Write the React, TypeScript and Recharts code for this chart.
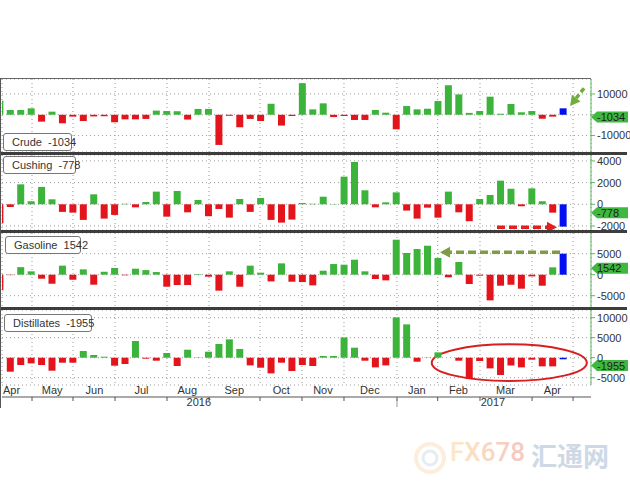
import React from 'react';
import { BarChart, Bar, XAxis, YAxis, CartesianGrid, Cell, ReferenceLine, ReferenceArea } from 'recharts';

// weekly changes, Apr 2016 .. Apr 2017 (first bar is cut by the left edge)
const crude = [6700, 2300, 2300, 3100, -3300, 1500, -4100, -900, -3000, -800, -700, -3600, -2200, -2200, -2000, 2000, 1800, 1700, -2300, 2800, 2800, -14500, -500, -6000, -2000, -3000, 5300, -5200, -600, 15200, 2600, 5500, -1100, -600, -2500, -2500, 2300, 1000, -7000, 4200, 2600, 2900, 6600, 14200, 9800, 900, 1800, 8700, 500, 5200, 1200, 1800, -1900, -900, 3100];
const cushing = [-1750, -250, 1840, 280, 1600, 460, -700, -770, -1440, 920, -1320, -980, 50, -280, 210, 1170, -1140, 1230, -740, 400, -1100, -430, -1230, 490, -700, 580, -1440, -1690, -1410, 120, 50, 700, 30, 2550, 3900, 1290, -280, 180, 1100, -580, -1320, -310, -1230, 1170, -740, -1560, 490, 860, 2180, 1440, -180, 1470, 280, -770, -2060];
const gasoline = [-3700, -100, 1800, 800, -950, -2150, 2150, -1200, 1270, -2380, 700, 1600, -150, 1430, 1100, 630, -2860, -2460, -2460, 150, -480, -3800, 800, -2860, 2150, 480, -1600, 2700, -1670, -1750, -2540, 950, 2540, 2380, 3570, 800, -1030, -1350, 8330, 5160, 6110, 6900, 3970, -630, 3020, -2220, -240, -6110, -2620, -2380, -3330, -400, -2620, 1750, 5000];
const distillates = [200, -3500, -1830, -1420, -1830, -3250, -1250, -1250, 1670, 670, 250, -2000, -1580, 4170, -250, -750, 1170, -2080, 2000, 80, 1500, 3420, 4580, 2170, -1920, -2500, -3920, -1250, -3330, -1830, -2080, 420, 420, 5080, 2500, -750, -2420, -1920, 10080, 8330, -1000, -50, 1330, 0, -750, -5330, -830, -2670, -4330, -1920, -2420, -500, -2170, -2170, -400];

// latest values shown in legends / axis flags
const lastCrude = -1034;
const lastCushing = -778;
const lastGasoline = 1542;
const lastDistillates = -1955;

// x axis in week units
const monthEdges = [3.11, 7.04, 11.07, 16.05, 20.08, 24.97, 28.99, 33.02, 38.1, 42.0, 46.06, 51.05, 54.98];
const monthMids = [1.15, 5.05, 9.1, 13.6, 18.0, 22.5, 27.0, 31.0, 35.5, 40.0, 44.0, 48.5, 53.0];
const monthNames = ['Apr', 'May', 'Jun', 'Jul', 'Aug', 'Sep', 'Oct', 'Nov', 'Dec', 'Jan', 'Feb', 'Mar', 'Apr'];
const yearPos = [19.1, 38.1, 47.3];
const yearNames = ['2016', '', '2017'];

const rows = crude.map((c, i) => ({
  wk: i,
  crude: c,
  cushing: cushing[i],
  gasoline: gasoline[i],
  distillates: distillates[i],
}));

const X_DOMAIN = [0.233, 56.7];
const GREEN = '#3cb43c';
const RED = '#e3141b';
const BLUE = '#0010f0';
const AXIS_GREEN = '#5cb85c';
const FONT = "'Liberation Sans', Arial, sans-serif";

const flagLabel = (text: string) => (p: any) => {
  const vb = p.viewBox || {};
  const x = vb.x + vb.width;
  const y = vb.y;
  return (
    <g>
      <polygon points={`${x},${y} ${x + 6},${y - 5.5} ${x + 37},${y - 5.5} ${x + 37},${y + 5.5} ${x + 6},${y + 5.5}`} fill="#3fb83f" />
      <text x={x + 6} y={y + 4} fontSize={11} fill="#1d1d1d" fontFamily={FONT}>{text}</text>
    </g>
  );
};

const arrowShape = (color: string, dash: string, w: number) => (p: any) => {
  const { x1, y1, x2, y2 } = p;
  const a = Math.atan2(y2 - y1, x2 - x1);
  const L = 10;
  const W = 5.5;
  const bx = x2 - L * Math.cos(a);
  const by = y2 - L * Math.sin(a);
  const px = -Math.sin(a) * W;
  const py = Math.cos(a) * W;
  return (
    <g>
      <line x1={x1} y1={y1} x2={bx} y2={by} stroke={color} strokeWidth={w} strokeDasharray={dash} />
      <polygon points={`${x2},${y2} ${bx + px},${by + py} ${bx - px},${by - py}`} fill={color} />
    </g>
  );
};

const ellipseShape = (p: any) => (
  <ellipse cx={p.x + p.width / 2} cy={p.y + p.height / 2} rx={p.width / 2} ry={p.height / 2} fill="none" stroke="#d81e1e" strokeWidth={2} />
);

const monthTick = (p: any) => (
  <text x={p.x} y={p.y + 9} textAnchor="middle" fontSize={11} fill="#333" fontFamily={FONT}>
    {monthNames[monthMids.indexOf(p.payload.value)]}
  </text>
);

const yearTick = (p: any) => {
  const label = yearNames[yearPos.indexOf(p.payload.value)];
  if (!label) return <line x1={p.x} x2={p.x} y1={p.y - 2} y2={p.y + 9} stroke="#999" />;
  return (
    <text x={p.x} y={p.y + 8} textAnchor="middle" fontSize={11} fill="#333" fontFamily={FONT}>{label}</text>
  );
};

interface PanelProps {
  top: number;
  plotH: number;
  field: 'crude' | 'cushing' | 'gasoline' | 'distillates';
  domain: number[];
  ticks: number[];
  flag: number;
  hideZero?: boolean;
  withAxis?: boolean;
  children?: React.ReactNode;
}

function Panel({ top, plotH, field, domain, ticks, flag, hideZero, withAxis, children }: PanelProps) {
  const h = plotH + (withAxis ? 27 : 0);
  return (
    <div style={{ position: 'absolute', left: 0, top }}>
      <BarChart width={630} height={h} data={rows} margin={{ top: 0, right: 0, bottom: 0, left: 2 }} barSize={7}>
        <CartesianGrid xAxisId="wk" yAxisId="v" stroke="#9a9a9a" strokeDasharray="1 3" />
        <XAxis
          xAxisId="wk"
          dataKey="wk"
          type="number"
          domain={X_DOMAIN}
          allowDataOverflow
          ticks={monthEdges}
          interval={0}
          hide={!withAxis}
          height={1}
          tickSize={4}
          tickFormatter={() => ''}
          axisLine={{ stroke: '#555' }}
          tickLine={{ stroke: '#555' }}
        />
        {withAxis && (
          <XAxis xAxisId="mon" dataKey="wk" type="number" domain={X_DOMAIN} allowDataOverflow ticks={monthMids}
            interval={0} height={12} tickSize={0} tickMargin={0} axisLine={false} tickLine={false} tick={monthTick} />
        )}
        {withAxis && (
          <XAxis xAxisId="yr" dataKey="wk" type="number" domain={X_DOMAIN} allowDataOverflow ticks={yearPos}
            interval={0} height={14} tickSize={0} tickMargin={0} axisLine={false} tickLine={false} tick={yearTick} />
        )}
        <YAxis
          yAxisId="v"
          orientation="right"
          width={39}
          type="number"
          domain={domain}
          allowDataOverflow
          ticks={ticks}
          interval={0}
          tickSize={4}
          tickMargin={2}
          axisLine={{ stroke: AXIS_GREEN }}
          tickLine={{ stroke: AXIS_GREEN }}
          tick={{ fontSize: 11, fill: '#333', fontFamily: FONT }}
          tickFormatter={(v: number) => (hideZero && v === 0 ? '' : String(v))}
        />
        <Bar xAxisId="wk" yAxisId="v" dataKey={field} isAnimationActive={false}>
          {rows.map((r, i) => (
            <Cell key={i} fill={i === rows.length - 1 ? BLUE : r[field] >= 0 ? GREEN : RED} />
          ))}
        </Bar>
        {children}
        <ReferenceLine xAxisId="wk" yAxisId="v" y={flag} stroke="none" label={{ content: flagLabel(String(flag)) }} />
      </BarChart>
    </div>
  );
}

function LegendBox({ left, top, width, text }: { left: number; top: number; width: number; text: string }) {
  return (
    <div
      style={{
        position: 'absolute', left, top, width, height: 18, boxSizing: 'border-box',
        background: '#fff', border: '1px solid #777', borderRadius: 3,
        display: 'flex', alignItems: 'center', fontFamily: FONT, fontSize: 11, color: '#333',
        whiteSpace: 'pre', paddingLeft: 4,
      }}
    >
      <span style={{ display: 'inline-block', width: 9, height: 9, background: GREEN, marginRight: 4 }} />
      {text}
    </div>
  );
}

const sep = (top: number) => (
  <div style={{ position: 'absolute', left: 0, top, width: 627, height: 3, background: '#3d3d3d' }} />
);

export default function App() {
  return (
    <div style={{ position: 'absolute', left: 0, top: 0, width: 630, height: 490, background: '#fff', overflow: 'hidden', fontFamily: FONT }}>
      <style>{'.recharts-surface { overflow: visible; }'}</style>
      <Panel top={79} plotH={73} field="crude" domain={[-17900, 17200]} ticks={[-10000, 0, 10000]} flag={lastCrude} hideZero>
        <ReferenceLine xAxisId="wk" yAxisId="v" segment={[{ x: 56.03, y: 12750 }, { x: 54.69, y: 4230 }]}
          shape={arrowShape('#6fae3c', '5 3', 3.5)} />
      </Panel>
      <Panel top={155} plotH={75} field="cushing" domain={[-2370, 4545]} ticks={[-2000, 0, 2000, 4000]} flag={lastCushing}>
        <ReferenceLine xAxisId="wk" yAxisId="v" segment={[{ x: 47.69, y: -2120 }, { x: 53.44, y: -2120 }]}
          shape={arrowShape('#e02020', '8 4', 3.5)} />
      </Panel>
      <Panel top={233} plotH={75} field="gasoline" domain={[-7925, 9925]} ticks={[-5000, 0, 5000]} flag={lastGasoline}>
        <ReferenceLine xAxisId="wk" yAxisId="v" segment={[{ x: 53.73, y: 5330 }, { x: 42.23, y: 5330 }]}
          shape={arrowShape('#7e9c44', '8 4', 3.5)} />
      </Panel>
      <Panel top={310} plotH={75} field="distillates" domain={[-6825, 11925]} ticks={[-5000, 0, 5000, 10000]} flag={lastDistillates} withAxis>
        <ReferenceArea xAxisId="wk" yAxisId="v" x1={41.43} x2={56.3} y1={-5825} y2={3350} shape={ellipseShape} />
      </Panel>

      {sep(152)}
      {sep(230)}
      {sep(307)}
      <div style={{ position: 'absolute', left: 0, top: 78, width: 591, height: 1, background: '#666' }} />
      <div style={{ position: 'absolute', left: 0, top: 78, width: 1, height: 330, background: '#555' }} />

      <LegendBox left={3} top={133} width={69} text={`Crude  ${lastCrude}`} />
      <LegendBox left={3} top={156} width={73} text={`Cushing  ${lastCushing}`} />
      <LegendBox left={5} top={236} width={76} text={`Gasoline  ${lastGasoline}`} />
      <LegendBox left={4} top={314} width={88} text={`Distillates  ${lastDistillates}`} />

      <svg style={{ position: 'absolute', left: 412, top: 440 }} width={36} height={36}>
        <circle cx={18} cy={18} r={14} fill="none" stroke="#f6c48c" strokeWidth={4} opacity={0.3} />
        <circle cx={18} cy={18} r={7} fill="none" stroke="#b9c8db" strokeWidth={3} opacity={0.35} />
      </svg>
      <div style={{ position: 'absolute', left: 450, top: 437, fontFamily: "Roboto, 'Liberation Sans', sans-serif", fontSize: 26, fontWeight: 500, opacity: 0.55, whiteSpace: 'pre' }}>
        <span style={{ color: '#f8d49c' }}>F</span>
        <span style={{ color: '#f7c690' }}>X</span>
        <span style={{ color: '#f5b68c' }}>6</span>
        <span style={{ color: '#f3a98c' }}>7</span>
        <span style={{ color: '#f19f8e' }}>8</span>
      </div>
      <div style={{ position: 'absolute', left: 531, top: 436, fontFamily: "'Noto Sans CJK SC', sans-serif", fontSize: 26, fontWeight: 700, color: '#bccadb', opacity: 0.7 }}>
        汇通网
      </div>
    </div>
  );
}
